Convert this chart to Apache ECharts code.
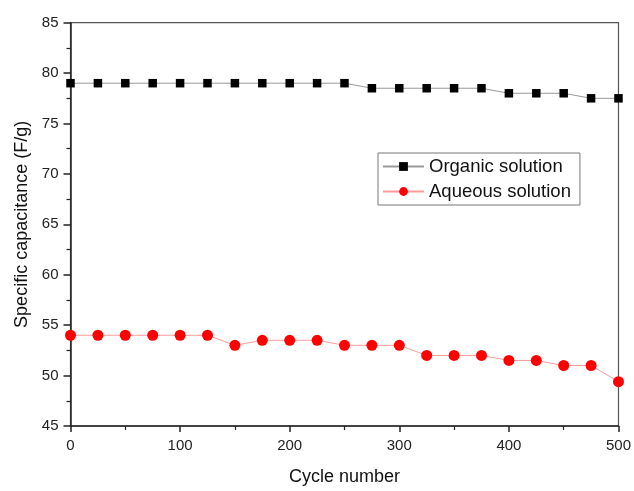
<!DOCTYPE html>
<html>
<head>
<meta charset="utf-8">
<script src="https://cdn.jsdelivr.net/npm/echarts@6/dist/echarts.min.js"></script>
<style>html,body{margin:0;padding:0;background:#fff}#c{width:634px;height:491px}</style>
</head>
<body>
<div id="c"></div>
<script>
const cycles = [0,25,50,75,100,125,150,175,200,225,250,275,300,325,350,375,400,425,450,475,500];
const organic = [79,79,79,79,79,79,79,79,79,79,79,78.5,78.5,78.5,78.5,78.5,78,78,78,77.5,77.5];
const aqueous = [54,54,54,54,54,54,53,53.5,53.5,53.5,53,53,53,52,52,52,51.5,51.5,51,51,49.4];
const seriesNames = ['Organic solution','Aqueous solution'];
const xName = 'Cycle number';
const yName = 'Specific capacitance (F/g)';

const pairs = (ys) => cycles.map((c,i)=>[c, ys[i]]);
const font = 'Liberation Sans, Arial, sans-serif';
const chart = echarts.init(document.getElementById('c'), null, {renderer:'canvas'});
chart.setOption({
  animation:false,
  backgroundColor:'#fff',
  grid:{left:70.5, top:22.7, right:13.3, bottom:59.3, show:true, borderColor:'#555', borderWidth:1.2, containLabel:false},
  legend:{
    left:378, top:153, orient:'vertical',
    padding:[4,9,4,4],
    itemGap:6,
    itemWidth:41, itemHeight:11,
    borderColor:'#777', borderWidth:1,
    textStyle:{fontFamily:font, fontSize:18.5, color:'#111'},
    data:seriesNames
  },
  xAxis:{
    type:'value', min:0, max:500, interval:100,
    name:xName, nameLocation:'middle', nameGap:42,
    nameTextStyle:{fontFamily:font, fontSize:18, color:'#111'},
    axisLine:{lineStyle:{color:'#222', width:1.5}},
    axisTick:{show:true, inside:false, length:6, lineStyle:{color:'#222', width:1.5}},
    minorTick:{show:true, splitNumber:2, length:4, lineStyle:{color:'#222', width:1.2}},
    axisLabel:{fontFamily:font, fontSize:15, color:'#222', margin:12, showMaxLabel:true},
    splitLine:{show:false}
  },
  yAxis:{
    type:'value', min:45, max:85, interval:5,
    name:yName, nameLocation:'middle', nameGap:38,
    nameTextStyle:{fontFamily:font, fontSize:18, color:'#111'},
    axisLine:{lineStyle:{color:'#222', width:1.5}},
    axisTick:{show:true, inside:false, length:7, lineStyle:{color:'#222', width:1.5}},
    minorTick:{show:true, splitNumber:2, length:4, lineStyle:{color:'#222', width:1.2}},
    axisLabel:{fontFamily:font, fontSize:15, color:'#222', margin:12},
    splitLine:{show:false}
  },
  series:[
    {name:seriesNames[0], type:'line', data:pairs(organic), symbol:'rect', symbolSize:8.5,
     itemStyle:{color:'#000'}, lineStyle:{color:'#999', width:1}, clip:false},
    {name:seriesNames[1], type:'line', data:pairs(aqueous), symbol:'circle', symbolSize:11,
     itemStyle:{color:'#ff0000'}, lineStyle:{color:'#ff9a9a', width:1}, clip:false}
  ]
});
</script>
</body>
</html>
